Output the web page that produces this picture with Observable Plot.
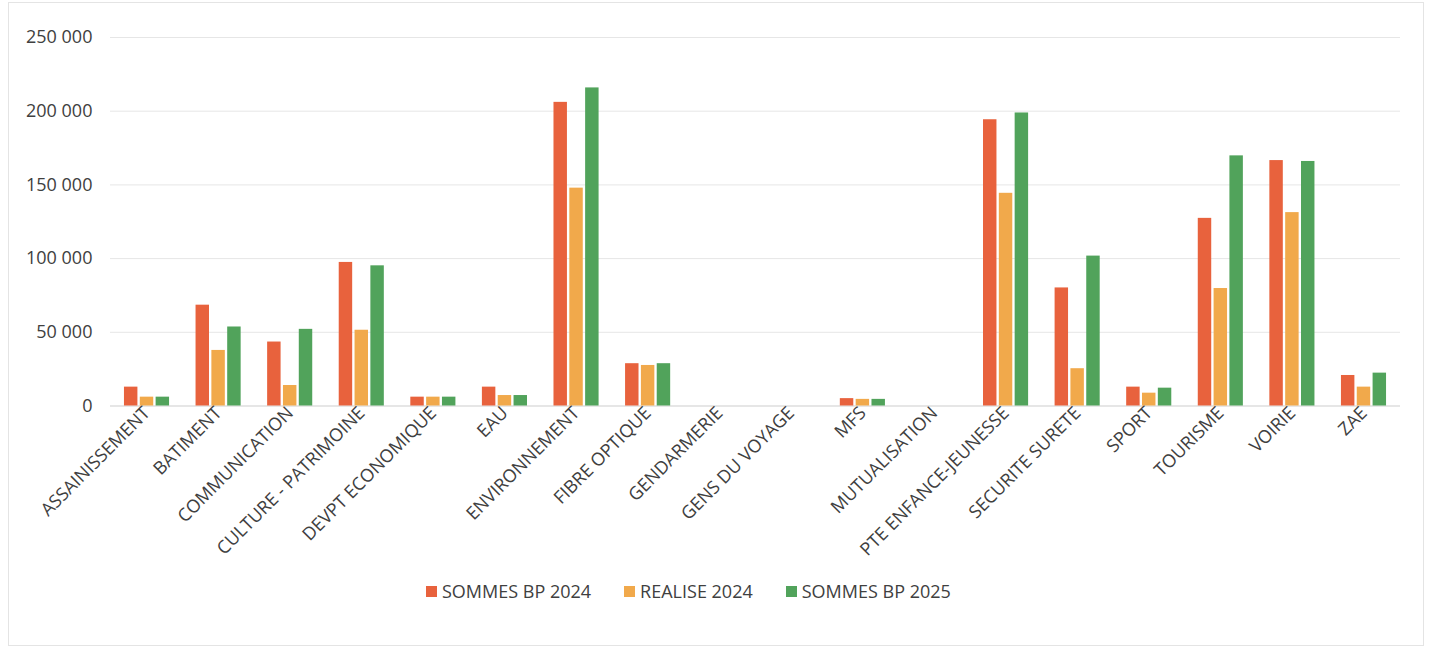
<!DOCTYPE html>
<html>
<head>
<meta charset="utf-8">
<script src="https://cdn.jsdelivr.net/npm/d3@7"></script>
<script src="https://cdn.jsdelivr.net/npm/@observablehq/plot@0.6"></script>
<style>
  html, body { margin: 0; padding: 0; background: #fff; }
  #frame { position: absolute; left: 8px; top: 2px; width: 1416px; height: 644px; border: 1px solid #e4e4e4; box-sizing: border-box; }
  #grid, #chart { position: absolute; left: 0; top: 0; }
  #legend { position: absolute; left: 426px; top: 579px; display: flex; gap: 33px; font-family: "Open Sans", sans-serif; font-size: 18px; color: #404040; }
  #legend .item { display: flex; align-items: center; gap: 5px; }
  #legend .sw { width: 11px; height: 11px; display: inline-block; }
</style>
</head>
<body>
<div id="frame"></div>
<div id="grid"></div>
<div id="chart"></div>
<div id="legend"></div>
<script>
const categories = ["ASSAINISSEMENT","BATIMENT","COMMUNICATION","CULTURE - PATRIMOINE","DEVPT ECONOMIQUE","EAU","ENVIRONNEMENT","FIBRE OPTIQUE","GENDARMERIE","GENS DU VOYAGE","MFS","MUTUALISATION","PTE ENFANCE-JEUNESSE","SECURITE SURETE","SPORT","TOURISME","VOIRIE","ZAE"];
const series = ["SOMMES BP 2024","REALISE 2024","SOMMES BP 2025"];
const sommesBP2024 = [12800, 68400, 43400, 97400, 6000, 12800, 206000, 28700, 0, 0, 5000, 0, 194200, 80100, 12800, 127300, 166500, 20700];
const realise2024  = [6000, 37700, 13900, 51400, 6000, 7100, 147800, 27500, 0, 0, 4500, 0, 144300, 25300, 8700, 79700, 131200, 12800];
const sommesBP2025 = [6000, 53600, 52000, 95100, 6000, 7100, 215800, 28700, 0, 0, 4500, 0, 198800, 101700, 12100, 169700, 165900, 22300];
const colors = ["#E8623D", "#F1A94B", "#51A35B"];
const yTicks = [0, 50000, 100000, 150000, 200000, 250000];

const valuesBySeries = [sommesBP2024, realise2024, sommesBP2025];
const data = [];
categories.forEach((c, i) => {
  series.forEach((s, j) => data.push({category: c, series: s, value: valuesBySeries[j][i]}));
});

const fmt = d => d3.format(",")(d).replace(/,/g, " ");

const common = {
  width: 1432,
  height: 560,
  marginLeft: 110,
  marginRight: 32,
  marginTop: 37,
  marginBottom: 154.5
};

// Continuous gridlines across the whole plot area (drawn behind the faceted chart)
const grid = Plot.plot({
  ...common,
  style: {background: "transparent"},
  x: {axis: null},
  y: {domain: [0, 250000], axis: null},
  marks: [
    Plot.ruleY(yTicks, {stroke: "#e6e6e6"}),
    Plot.ruleY([0], {stroke: "#d9d9d9"})
  ]
});
document.getElementById("grid").appendChild(grid);

const chart = Plot.plot({
  ...common,
  style: {fontFamily: "Open Sans, sans-serif", fontSize: "18px", color: "#404040", background: "transparent"},
  fx: {domain: categories, round: false, paddingInner: 0.37, paddingOuter: 0.195, axis: "bottom", tickRotate: -45, tickSize: 0, tickPadding: 4, label: null},
  x: {domain: series, round: false, paddingInner: 0.15, paddingOuter: 0, axis: null},
  y: {domain: [0, 250000], ticks: yTicks, tickFormat: fmt, tickSize: 0, tickPadding: 32, label: null},
  color: {domain: series, range: colors},
  marks: [
    Plot.barY(data, {fx: "category", x: "series", y: "value", fill: "series"})
  ]
});
document.getElementById("chart").appendChild(chart);

const legend = document.getElementById("legend");
series.forEach((s, j) => {
  const item = document.createElement("div");
  item.className = "item";
  const sw = document.createElement("span");
  sw.className = "sw";
  sw.style.background = colors[j];
  const t = document.createElement("span");
  t.textContent = s;
  item.appendChild(sw); item.appendChild(t);
  legend.appendChild(item);
});
</script>
</body>
</html>
